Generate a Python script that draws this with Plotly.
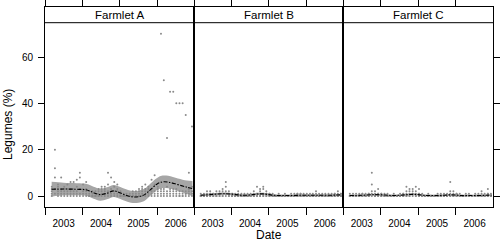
import plotly.graph_objects as go

# ---------------- data ----------------
SAMPLE_MONTHS = [
    "2003-03", "2003-04", "2003-05", "2003-06", "2003-07", "2003-08", "2003-09", "2003-10",
    "2003-11", "2003-12", "2004-01", "2004-02", "2004-03", "2004-04", "2004-05", "2004-06",
    "2004-07", "2004-08", "2004-09", "2004-10", "2004-11", "2004-12", "2005-01", "2005-02",
    "2005-03", "2005-04", "2005-05", "2005-06", "2005-07", "2005-08", "2005-09", "2005-10",
    "2005-11", "2005-12", "2006-01", "2006-02", "2006-03", "2006-04", "2006-05", "2006-06",
    "2006-07", "2006-08", "2006-09", "2006-10", "2006-11", "2006-12",
]
SAMPLE_DAY = "08"

FARMLETS = ["Farmlet A", "Farmlet B", "Farmlet C"]

A_VALUES = [
    [2, 0, 4, 1, 3], [20, 12, 8, 3, 1], [5, 2, 0, 1, 4], [8, 3, 1, 0, 2], [4, 2, 0, 1, 3],
    [3, 1, 0, 2, 5], [6, 2, 0, 1, 3], [6, 3, 1, 0, 2], [7, 4, 2, 0, 1], [10, 8, 3, 1, 0],
    [5, 2, 0, 1, 3], [6, 3, 1, 0, 2], [2, 0, 1, 0, 0], [1, 0, 0, 2, 0], [0, 1, 0, 0, 2],
    [2, 0, 1, 0, 3], [3, 1, 0, 2, 4], [4, 2, 0, 1, 3], [10, 5, 2, 0, 1], [8, 3, 1, 0, 2],
    [6, 2, 0, 1, 4], [5, 2, 0, 1, 3], [1, 0, 0, 2, 0], [0, 1, 0, 0, 0], [0, 0, 1, 0, 0],
    [1, 0, 0, 0, 0], [0, 0, 2, 0, 1], [2, 0, 1, 0, 0], [3, 1, 0, 2, 0], [4, 2, 0, 1, 3],
    [5, 3, 1, 0, 2], [4, 2, 0, 1, 3], [7, 3, 1, 0, 2], [9, 5, 2, 1, 0], [3, 1, 0, 2, 4],
    [70, 3, 1, 0, 2], [50, 3, 2, 0, 1], [25, 4, 2, 1, 0], [45, 3, 1, 0, 2], [45, 2, 1, 0, 3],
    [40, 2, 0, 1, 3], [40, 1, 0, 2, 0], [40, 1, 0, 2, 0], [35, 2, 1, 0, 1], [10, 3, 1, 0, 2],
    [30, 2, 1, 0, 4],
]
B_VALUES = [
    [0, 0, 1, 0, 0], [0, 1, 0, 0, 0], [1, 0, 0, 2, 0], [2, 1, 0, 0, 1], [1, 0, 0, 1, 0],
    [1, 0, 2, 0, 0], [2, 1, 0, 0, 1], [3, 1, 0, 2, 0], [6, 4, 2, 1, 0], [2, 1, 0, 0, 1],
    [1, 0, 0, 1, 0], [1, 0, 0, 0, 0], [2, 0, 1, 0, 0], [0, 0, 1, 0, 0], [0, 1, 0, 0, 0],
    [1, 0, 0, 0, 0], [0, 0, 1, 0, 0], [1, 0, 0, 2, 0], [4, 1, 0, 0, 1], [3, 1, 0, 2, 0],
    [3, 4, 1, 0, 0], [2, 1, 0, 0, 1], [1, 0, 0, 1, 0], [0, 0, 1, 0, 0], [0, 0, 0, 0, 0],
    [0, 1, 0, 0, 0], [0, 0, 0, 0, 0], [0, 0, 1, 0, 0], [0, 0, 0, 0, 0], [1, 0, 0, 0, 0],
    [0, 0, 1, 0, 0], [1, 0, 0, 0, 1], [1, 0, 0, 1, 0], [0, 1, 0, 0, 0], [0, 0, 1, 0, 0],
    [1, 0, 0, 0, 0], [0, 0, 0, 1, 0], [2, 1, 0, 0, 0], [0, 1, 0, 0, 0], [1, 0, 0, 0, 0],
    [0, 0, 1, 0, 0], [0, 1, 0, 0, 0], [1, 0, 0, 0, 0], [0, 0, 1, 0, 1], [2, 1, 0, 0, 0],
    [1, 0, 0, 1, 0],
]
C_VALUES = [
    [0, 0, 1, 0, 0], [0, 1, 0, 0, 0], [1, 0, 0, 0, 0], [0, 1, 0, 0, 0], [1, 0, 0, 0, 1],
    [0, 0, 1, 0, 0], [1, 0, 0, 1, 0], [10, 5, 2, 1, 0], [2, 1, 0, 0, 0], [3, 1, 0, 0, 1],
    [1, 0, 0, 1, 0], [0, 1, 0, 0, 0], [1, 0, 0, 0, 0], [0, 0, 0, 0, 0], [0, 0, 1, 0, 0],
    [0, 0, 0, 0, 0], [1, 0, 0, 0, 0], [0, 0, 1, 0, 1], [4, 2, 1, 0, 0], [3, 2, 1, 0, 0],
    [3, 2, 1, 0, 1], [4, 2, 1, 0, 0], [3, 1, 0, 0, 1], [1, 0, 0, 0, 0], [0, 0, 0, 0, 0],
    [0, 1, 0, 0, 0], [0, 0, 0, 0, 0], [0, 0, 0, 0, 0], [1, 0, 0, 0, 0], [0, 0, 1, 0, 0],
    [1, 0, 0, 0, 0], [1, 0, 0, 0, 0], [6, 2, 1, 0, 0], [2, 1, 0, 0, 0], [1, 0, 0, 0, 1],
    [0, 1, 0, 0, 0], [0, 0, 0, 0, 0], [1, 0, 0, 0, 0], [0, 0, 0, 1, 0], [0, 0, 0, 0, 0],
    [1, 0, 0, 0, 0], [0, 1, 0, 0, 0], [2, 1, 0, 0, 0], [1, 0, 0, 0, 0], [3, 1, 0, 0, 1],
    [1, 0, 0, 0, 0],
]

# smoother (fit and half-width of the grey band), read at these dates
KNOT_DATES = [
    "2003-03-07", "2003-07-02", "2003-11-07", "2004-02-14", "2004-04-20", "2004-06-24",
    "2004-08-29", "2004-11-03", "2005-01-01", "2005-02-25", "2005-04-21", "2005-07-02",
    "2005-09-02", "2005-11-03", "2006-01-01", "2006-02-24", "2006-04-20", "2006-07-24",
    "2006-10-20", "2006-12-13",
]
A_FIT = [2.9, 3.0, 2.9, 2.6, 1.4, 0.6, 1.2, 2.2, 1.4, 0.4, -0.3, -0.3,
         0.6, 3.0, 5.2, 6.1, 6.0, 4.9, 3.8, 3.2]
A_HALF = [3.2, 2.7, 2.6, 2.6, 2.6, 2.6, 2.6, 2.6, 2.6, 2.6, 2.6, 2.6,
          2.6, 2.6, 2.6, 2.7, 2.7, 2.7, 2.9, 3.3]
B_FIT = [0.3, 0.7, 1.0, 0.6, 0.3, 0.4, 0.8, 0.9, 0.6, 0.3, 0.2, 0.2,
         0.2, 0.3, 0.3, 0.3, 0.3, 0.3, 0.4, 0.5]
B_HALF = [0.5] * 20
C_FIT = [0.2, 0.3, 0.6, 0.4, 0.2, 0.3, 0.5, 0.7, 0.6, 0.3, 0.2, 0.2,
         0.3, 0.5, 0.4, 0.2, 0.2, 0.2, 0.3, 0.4]
C_HALF = [0.4] * 20

Y_TICKS = [0, 20, 40, 60]
X_RANGE = ["2003-01-01", "2006-12-28"]
Y_RANGE = [-4.75, 81.6]

# ---------------- figure ----------------
FONT = "Liberation Sans, Arial, Helvetica, sans-serif"
W, H = 500, 241
PANEL_PX = [(45, 194), (194, 343), (343, 493)]
Y_DOM = [(H - 207) / H, (H - 7) / H]
STRIP_BOTTOM = (H - 22.7) / H

fig = go.Figure()
panels = [(A_VALUES, A_FIT, A_HALF), (B_VALUES, B_FIT, B_HALF), (C_VALUES, C_FIT, C_HALF)]
for i, (vals, fit, half) in enumerate(panels):
    xs = "x" if i == 0 else f"x{i+1}"
    ys = "y" if i == 0 else f"y{i+1}"
    px, py = [], []
    for m, row in zip(SAMPLE_MONTHS, vals):
        for v in row:
            px.append(f"{m}-{SAMPLE_DAY}")
            py.append(v)
    lo = [f - h for f, h in zip(fit, half)]
    hi = [f + h for f, h in zip(fit, half)]
    fig.add_trace(go.Scatter(x=KNOT_DATES, y=lo, mode="lines", line=dict(width=0, shape="spline"),
                             xaxis=xs, yaxis=ys, showlegend=False, hoverinfo="skip"))
    fig.add_trace(go.Scatter(x=KNOT_DATES, y=hi, mode="lines", line=dict(width=0, shape="spline"),
                             fill="tonexty", fillcolor="#a6a6a6",
                             xaxis=xs, yaxis=ys, showlegend=False, hoverinfo="skip"))
    fig.add_trace(go.Scatter(x=px, y=py, mode="markers",
                             marker=dict(size=2, color="#8a8a8a", line=dict(width=0)),
                             xaxis=xs, yaxis=ys, showlegend=False))
    fig.add_trace(go.Scatter(x=KNOT_DATES, y=fit, mode="lines",
                             line=dict(color="black", width=1.1, shape="spline",
                                       dash="4px,1.5px,1.5px,1.5px"),
                             xaxis=xs, yaxis=ys, showlegend=False))

layout = dict(
    width=W, height=H, margin=dict(l=0, r=0, t=0, b=0),
    paper_bgcolor="white", plot_bgcolor="white",
    font=dict(family=FONT, color="black", size=10),
    showlegend=False, hovermode=False,
)
for i, (x0, x1) in enumerate(PANEL_PX):
    xk = "xaxis" if i == 0 else f"xaxis{i+1}"
    yk = "yaxis" if i == 0 else f"yaxis{i+1}"
    layout[xk] = dict(
        domain=[x0 / W, x1 / W], anchor="y" if i == 0 else f"y{i+1}",
        type="date", range=X_RANGE, tick0="2003-01-01", dtick="M12",
        ticklabelmode="period", tickformat="%Y",
        ticks="outside", ticklen=7, tickwidth=1, tickcolor="black",
        showline=True, linecolor="black", linewidth=1, mirror="ticks",
        showgrid=False, zeroline=False, tickfont=dict(size=10),
    )
    ydict = dict(
        domain=Y_DOM, anchor="x" if i == 0 else f"x{i+1}", range=Y_RANGE,
        tickvals=Y_TICKS, showline=True, linecolor="black", linewidth=1, mirror=True,
        showgrid=False, zeroline=False, tickfont=dict(size=10),
    )
    if i == 0:
        ydict.update(ticks="outside", ticklen=6, tickwidth=1, tickcolor="black",
                     showticklabels=True, ticklabelstandoff=3)
    elif i == 1:
        ydict.update(ticks="", showticklabels=False)
    else:
        ydict.update(side="right", ticks="outside", ticklen=6, tickwidth=1,
                     tickcolor="black", showticklabels=False)
    layout[yk] = ydict

shapes, annotations = [], []
for name, (x0, x1) in zip(FARMLETS, PANEL_PX):
    shapes.append(dict(type="line", xref="paper", yref="paper", x0=x0 / W, x1=x1 / W,
                       y0=STRIP_BOTTOM, y1=STRIP_BOTTOM, line=dict(color="black", width=1)))
    annotations.append(dict(text=name, xref="paper", yref="paper", x=(x0 + x1) / 2 / W,
                            y=(STRIP_BOTTOM + Y_DOM[1]) / 2, xanchor="center", yanchor="middle",
                            showarrow=False, font=dict(size=11.5)))
annotations.append(dict(text="Legumes (%)", xref="paper", yref="paper", x=8 / W, y=(H - 125) / H,
                        textangle=-90, xanchor="center", yanchor="middle", showarrow=False,
                        font=dict(size=12)))
annotations.append(dict(text="Date", xref="paper", yref="paper", x=268.5 / W, y=(H - 234.5) / H,
                        xanchor="center", yanchor="middle", showarrow=False,
                        font=dict(size=12)))
layout["shapes"] = shapes
layout["annotations"] = annotations
fig.update_layout(**layout)

fig.write_html("out.html", config={"displayModeBar": False},
               post_script="document.body.style.margin='0';")
